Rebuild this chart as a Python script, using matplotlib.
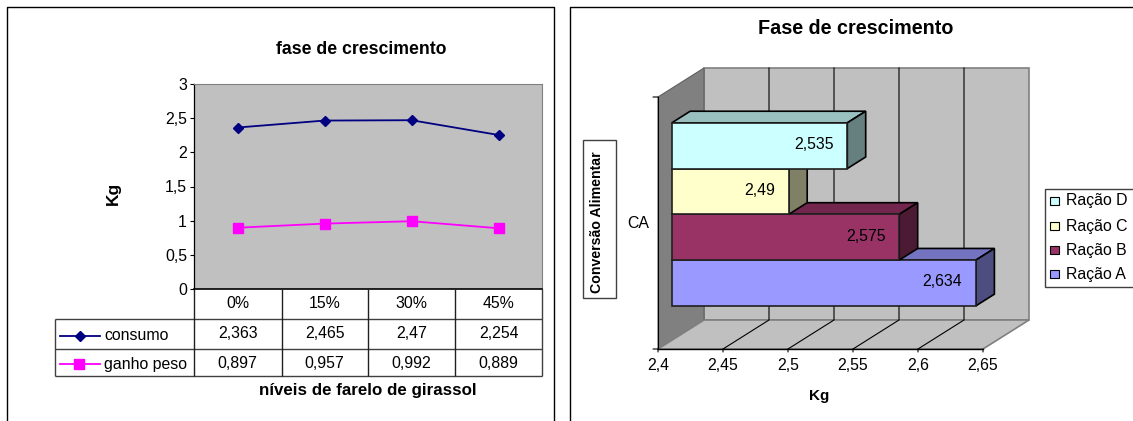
import matplotlib
matplotlib.use('Agg')
import matplotlib.pyplot as plt
from matplotlib.patches import Polygon, Rectangle

plt.rcParams['font.family'] = ['Liberation Sans', 'DejaVu Sans']

W, H = 1133, 421

# grafico de linhas
niveis = ['0%', '15%', '30%', '45%']
consumo = [2.363, 2.465, 2.47, 2.254]
ganho_peso = [0.897, 0.957, 0.992, 0.889]
ticks_kg = [0, 0.5, 1, 1.5, 2, 2.5, 3]

# grafico de barras 3D
racoes = ['Ração A', 'Ração B', 'Ração C', 'Ração D']
conversao = [2.634, 2.575, 2.49, 2.535]
ticks_ca = [2.4, 2.45, 2.5, 2.55, 2.6, 2.65]
cores_frente = ['#9999FF', '#993366', '#FFFFCC', '#CCFFFF']
cores_topo = ['#7373BF', '#73264D', '#BFBF99', '#99BFBF']
cores_lado = ['#4D4D80', '#4D1A33', '#808066', '#668080']


def virgula(v):
    return f'{v:g}'.replace('.', ',')


def eixo_px(fig, x0, y0, x1, y1):
    # eixo posicionado em pixels, com y contado de cima para baixo
    return fig.add_axes([x0 / W, 1 - y1 / H, (x1 - x0) / W, (y1 - y0) / H])


fig = plt.figure(figsize=(W / 100, H / 100), dpi=100, facecolor='white')

# camada de fundo em pixels para molduras, tabela e textos soltos
tela = fig.add_axes([0, 0, 1, 1], zorder=5)
tela.set_xlim(0, W)
tela.set_ylim(H, 0)
tela.axis('off')
tela.patch.set_alpha(0)

FS = 11.4


def linha(xs, ys, cor='black', lw=1.0):
    tela.plot(xs, ys, color=cor, lw=lw, solid_capstyle='butt')


# molduras
linha([7, 7, 554, 554], [421, 7, 7, 421], lw=1.0)
linha([570, 570, 1133], [421, 7, 7], lw=1.0)

# --- Esquerda: consumo e ganho de peso ---
ax = eixo_px(fig, 194, 84, 542, 289)
ax.set_facecolor('#C0C0C0')
ax.set_xlim(0, 4)
ax.set_ylim(0, 3)
x_cat = [i + 0.5 for i in range(4)]
ax.plot(x_cat, consumo, color='#000080', lw=1.3, marker='D', ms=5.5, clip_on=False)
ax.plot(x_cat, ganho_peso, color='#FF00FF', lw=1.3, marker='s', ms=6.5, clip_on=False)
ax.set_xticks([])
ax.set_yticks(ticks_kg)
ax.set_yticklabels([virgula(t) for t in ticks_kg], fontsize=FS)
ax.tick_params(axis='y', length=3, width=0.8, pad=2)
for lado in ['top', 'right']:
    ax.spines[lado].set_color('#808080')
ax.spines['left'].set_linewidth(0.9)
ax.spines['bottom'].set_linewidth(1.2)

tela.text(361, 50, 'fase de crescimento', ha='center', va='center', fontsize=12.7, fontweight='bold')
tela.text(113, 193, 'Kg', ha='center', va='center', rotation=90, fontsize=12.5, fontweight='bold')
tela.text(368, 391, 'níveis de farelo de girassol', ha='center', va='center', fontsize=12.2, fontweight='bold')

# tabela de dados sob o grafico
cols = [194, 281.5, 367.5, 455, 542]
lin = [289, 319, 349, 376]
linha([55, 542], [lin[1], lin[1]], '#404040')
linha([55, 542], [lin[2], lin[2]], '#404040')
linha([55, 542], [lin[3], lin[3]], '#404040')
linha([55, 55], [lin[1], lin[3]], '#404040')
linha([542, 542], [lin[0], lin[3]], '#404040')
for c in cols[:-1]:
    linha([c, c], [lin[0], lin[3]], '#202020')
for i, rot in enumerate(niveis):
    cx = (cols[i] + cols[i + 1]) / 2
    tela.text(cx, 303, rot, ha='center', va='center', fontsize=FS)
    tela.text(cx, 334, virgula(consumo[i]), ha='center', va='center', fontsize=FS)
    tela.text(cx, 363, virgula(ganho_peso[i]), ha='center', va='center', fontsize=FS)
tela.plot([60, 100], [336, 336], color='#000080', lw=1.3)
tela.plot([80], [336], color='#000080', marker='D', ms=5.5)
tela.plot([60, 100], [364, 364], color='#FF00FF', lw=1.3)
tela.plot([79], [364], color='#FF00FF', marker='s', ms=6.5)
tela.text(104, 336, 'consumo', ha='left', va='center', fontsize=FS)
tela.text(104, 364, 'ganho peso', ha='left', va='center', fontsize=FS)

# --- Direita: conversao alimentar em barras com perspectiva ---
bx = eixo_px(fig, 658, 97, 983, 349)
bx.set_xlim(2.4, 2.65)
bx.set_ylim(0, 1)
bx.axis('off')

# deslocamento do plano frontal para o fundo, em unidades dos dados
DX = 46 / 1300
DY = 29 / 252


def proj(x, y, d):
    return (x + d * DX, y + d * DY)


def face(pts, cor, ec='#808080', lw=1.2, z=1):
    bx.add_patch(Polygon(pts, closed=True, facecolor=cor, edgecolor=ec, lw=lw, clip_on=False, zorder=z))


x0, x1 = ticks_ca[0], ticks_ca[-1]
# parede de fundo, parede lateral e piso
face([proj(x0, 0, 1), proj(x1, 0, 1), proj(x1, 1, 1), proj(x0, 1, 1)], '#C0C0C0')
face([proj(x0, 0, 0), proj(x0, 0, 1), proj(x0, 1, 1), proj(x0, 1, 0)], '#808080', ec='#606060', lw=0.8)
face([proj(x0, 0, 0), proj(x1, 0, 0), proj(x1, 0, 1), proj(x0, 0, 1)], '#C0C0C0')
for t in ticks_ca[1:-1]:
    a, b, c = proj(t, 0, 0), proj(t, 0, 1), proj(t, 1, 1)
    bx.plot([a[0], b[0], c[0]], [a[1], b[1], c[1]], color='black', lw=0.8, zorder=2, clip_on=False)
bx.plot([x0, x1], [0, 0], color='black', lw=1.0, zorder=2, clip_on=False)
bx.plot([x0, x0], [0, 1], color='black', lw=0.8, zorder=2, clip_on=False)

# traços e rotulos dos eixos
for t in ticks_ca:
    bx.annotate('', xy=(t, 0), xytext=(0, -3), textcoords='offset pixels',
                arrowprops=dict(arrowstyle='-', lw=0.8, color='black', shrinkA=0, shrinkB=0))
    bx.annotate(virgula(t), xy=(t, 0), xytext=(0, -16), textcoords='offset pixels',
                ha='center', va='center', fontsize=FS, annotation_clip=False)
for yy in [0, 1]:
    bx.annotate('', xy=(x0, yy), xytext=(-5, 0), textcoords='offset pixels',
                arrowprops=dict(arrowstyle='-', lw=0.8, color='black', shrinkA=0, shrinkB=0))

D0, D1 = 0.30, 0.70
BASE = 0.137
ALT = 0.1815
for i, v in enumerate(conversao):
    y0 = BASE + i * ALT
    y1 = y0 + ALT
    z = 3 + i
    face([proj(x0, y1, D0), proj(v, y1, D0), proj(v, y1, D1), proj(x0, y1, D1)], cores_topo[i], ec='black', z=z)
    face([proj(v, y0, D0), proj(v, y0, D1), proj(v, y1, D1), proj(v, y1, D0)], cores_lado[i], ec='black', z=z)
    face([proj(x0, y0, D0), proj(v, y0, D0), proj(v, y1, D0), proj(x0, y1, D0)], cores_frente[i], ec='#202020', z=z)
    bx.annotate(virgula(v), xy=proj(v, (y0 + y1) / 2, D0), xytext=(-14, 1), textcoords='offset pixels',
                ha='right', va='center', fontsize=FS, zorder=10, annotation_clip=False)

tela.text(856, 29, 'Fase de crescimento', ha='center', va='center', fontsize=14.2, fontweight='bold')
tela.text(819, 396, 'Kg', ha='center', va='center', fontsize=11, fontweight='bold')
tela.text(638.5, 223, 'CA', ha='center', va='center', fontsize=FS)

# caixa do titulo vertical
tela.add_patch(Rectangle((583, 140), 33, 158, facecolor='white', edgecolor='#404040', lw=1.0))
tela.text(597, 222, 'Conversão Alimentar', ha='center', va='center', rotation=90,
          fontsize=10.2, fontweight='bold')

# legenda desenhada a mao, com a ordem invertida das series
tela.add_patch(Rectangle((1045, 189), 90, 98, facecolor='white', edgecolor='#404040', lw=1.0, clip_on=False))
for i, nome in enumerate(reversed(racoes)):
    yy = [201, 226, 250, 274][i]
    tela.add_patch(Rectangle((1050, yy - 4), 9, 8, facecolor=cores_frente[3 - i], edgecolor='black', lw=0.8))
    tela.text(1066, yy, nome, ha='left', va='center', fontsize=FS)

fig.savefig('out.png', dpi=100)
